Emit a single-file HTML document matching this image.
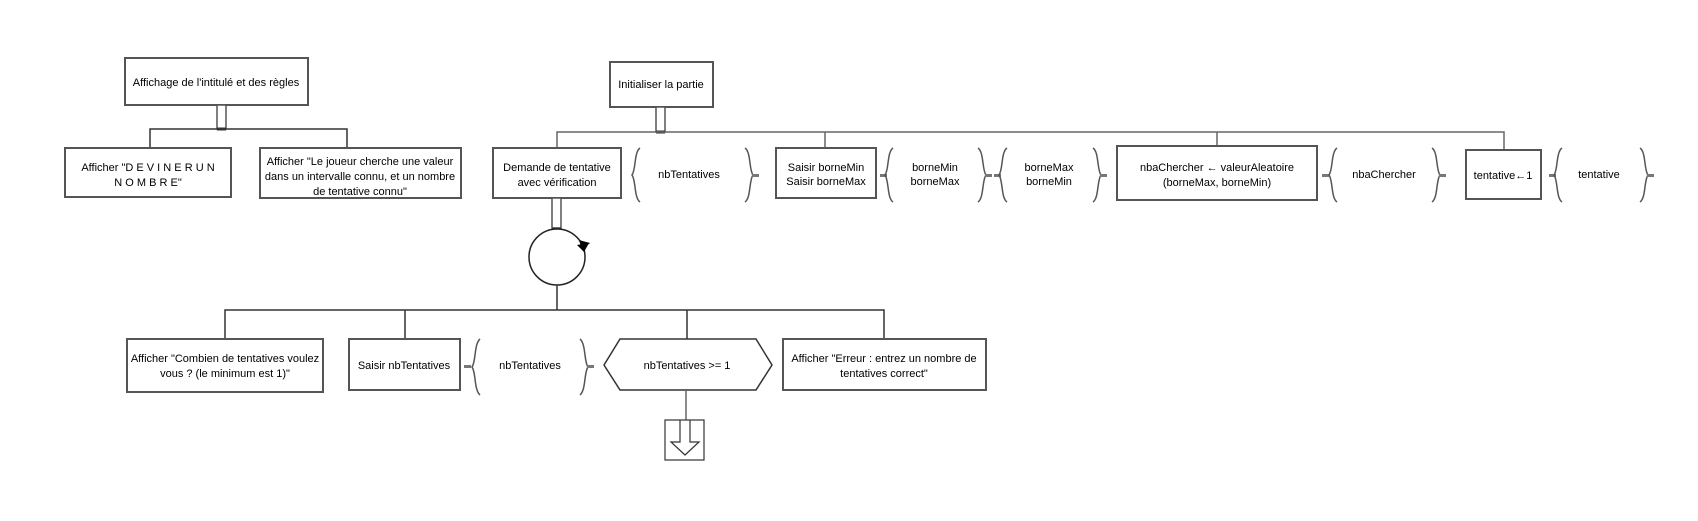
<!DOCTYPE html>
<html><head><meta charset="utf-8"><style>
html,body{margin:0;padding:0;background:#fff;}
svg{display:block;}
text{font-family:"Liberation Sans",sans-serif;font-size:11px;fill:#000;text-anchor:middle;}
.b{fill:#fff;stroke:#555;stroke-width:2;}
.l{stroke:#333;stroke-width:1.5;fill:none;}
.g{stroke:#666;stroke-width:1.5;fill:none;}
.br{stroke:#555;stroke-width:1.5;fill:none;}
</style></head><body>
<svg width="1698" height="521" viewBox="0 0 1698 521" xmlns="http://www.w3.org/2000/svg">
<rect class="b" x="125" y="58" width="183" height="47"/>
<text x="216" y="86">Affichage de l'intitulé et des règles</text>
<rect class="b" x="217" y="105" width="9" height="24" style="stroke-width:1.5"/>
<line class="l" x1="217" y1="129" x2="226" y2="129" style="stroke-width:3"/>
<path class="l" d="M150 148 V129 H347 V148"/>
<rect class="b" x="65" y="148" width="166" height="49"/>
<text x="148" y="171">Afficher "D E V I N E R   U N</text>
<text x="148" y="186">N O M B R E"</text>
<rect class="b" x="260" y="148" width="201" height="50"/>
<text x="360" y="165">Afficher "Le joueur cherche une valeur</text>
<text x="360" y="180">dans un intervalle connu, et un nombre</text>
<text x="360" y="195">de tentative connu"</text>

<rect class="b" x="610" y="62" width="103" height="45"/>
<text x="661" y="88">Initialiser la partie</text>
<rect class="b" x="656" y="107" width="9" height="25" style="stroke-width:1.5"/>
<line class="l" x1="656" y1="132" x2="665" y2="132" style="stroke-width:3"/>
<path class="g" d="M557 148 V132 H1504 V150 M825 132 V148 M1217 132 V146"/>

<rect class="b" x="493" y="148" width="128" height="50"/>
<text x="557" y="171">Demande de tentative</text>
<text x="557" y="186">avec vérification</text>

<path class="br" d="M640 148 C634 152,636 170,632 175 C636 180,634 198,640 202"/>
<text x="689" y="178">nbTentatives</text>
<path class="br" d="M745 148 C751 152,749 170,753 175 C749 180,751 198,745 202"/>
<rect x="752" y="174" width="7" height="3" fill="#777"/>

<rect class="b" x="776" y="148" width="100" height="50"/>
<text x="826" y="171">Saisir borneMin</text>
<text x="826" y="185">Saisir borneMax</text>
<rect x="880" y="174" width="7" height="3" fill="#777"/>
<path class="br" d="M893 148 C887 152,889 170,885 175 C889 180,887 198,893 202"/>
<text x="935" y="171">borneMin</text>
<text x="935" y="185">borneMax</text>
<path class="br" d="M978 148 C984 152,982 170,986 175 C982 180,984 198,978 202"/>
<rect x="985" y="174" width="7" height="3" fill="#777"/>
<rect x="994" y="174" width="7" height="3" fill="#777"/>
<path class="br" d="M1007 148 C1001 152,1003 170,999 175 C1003 180,1001 198,1007 202"/>
<text x="1049" y="171">borneMax</text>
<text x="1049" y="185">borneMin</text>
<path class="br" d="M1093 148 C1099 152,1097 170,1101 175 C1097 180,1099 198,1093 202"/>
<rect x="1100" y="174" width="7" height="3" fill="#777"/>

<rect class="b" x="1117" y="146" width="200" height="54"/>
<text x="1217" y="171">nbaChercher ← valeurAleatoire</text>
<text x="1217" y="186">(borneMax, borneMin)</text>
<rect x="1322" y="174" width="7" height="3" fill="#777"/>
<path class="br" d="M1337 148 C1331 152,1333 170,1329 175 C1333 180,1331 198,1337 202"/>
<text x="1384" y="178">nbaChercher</text>
<path class="br" d="M1432 148 C1438 152,1436 170,1440 175 C1436 180,1438 198,1432 202"/>
<rect x="1439" y="174" width="7" height="3" fill="#777"/>

<rect class="b" x="1466" y="150" width="75" height="49"/>
<text x="1503" y="179">tentative←1</text>
<rect x="1549" y="174" width="7" height="3" fill="#777"/>
<path class="br" d="M1562 148 C1556 152,1558 170,1554 175 C1558 180,1556 198,1562 202"/>
<text x="1599" y="178">tentative</text>
<path class="br" d="M1640 148 C1646 152,1644 170,1648 175 C1644 180,1646 198,1640 202"/>
<rect x="1647" y="174" width="7" height="3" fill="#777"/>

<rect class="b" x="552" y="198" width="9" height="30" style="stroke-width:1.5"/>
<line class="l" x1="552" y1="229" x2="561" y2="229" style="stroke-width:3"/>
<circle cx="557" cy="257" r="28" fill="#fff" stroke="#222" stroke-width="1.5"/>
<polygon points="577,245 589,243 584,252" fill="#000"/>
<polygon points="579,240 590,243 582,250" fill="#000"/>
<line class="l" x1="557" y1="285" x2="557" y2="310"/>
<path class="l" d="M225 339 V310 H884 V339 M405 310 V339 M687 310 V339"/>

<rect class="b" x="127" y="339" width="196" height="53"/>
<text x="225" y="362">Afficher "Combien de tentatives voulez</text>
<text x="225" y="377">vous ? (le minimum est 1)"</text>
<rect class="b" x="349" y="339" width="111" height="51"/>
<text x="404" y="369">Saisir nbTentatives</text>
<rect x="464" y="365" width="7" height="3" fill="#777"/>
<path class="br" d="M480 339 C474 344,476 362,472 367 C476 372,474 390,480 395"/>
<text x="530" y="369">nbTentatives</text>
<path class="br" d="M580 339 C586 344,584 362,588 367 C584 372,586 390,580 395"/>
<rect x="587" y="365" width="7" height="3" fill="#777"/>

<polygon points="604,365 620,339 756,339 772,365 756,390 620,390" fill="#fff" stroke="#333" stroke-width="1.5"/>
<text x="687" y="369">nbTentatives &gt;= 1</text>

<rect class="b" x="783" y="339" width="203" height="51"/>
<text x="884" y="362">Afficher "Erreur : entrez un nombre de</text>
<text x="884" y="377">tentatives correct"</text>

<line class="g" x1="686" y1="390" x2="686" y2="420"/>
<rect x="665" y="420" width="39" height="40" fill="#fff" stroke="#333" stroke-width="1.2"/>
<polyline points="680,420 680,442 671,442 685,455 699,442 690,442 690,420" fill="none" stroke="#333" stroke-width="1.2"/>
</svg>
</body></html>
